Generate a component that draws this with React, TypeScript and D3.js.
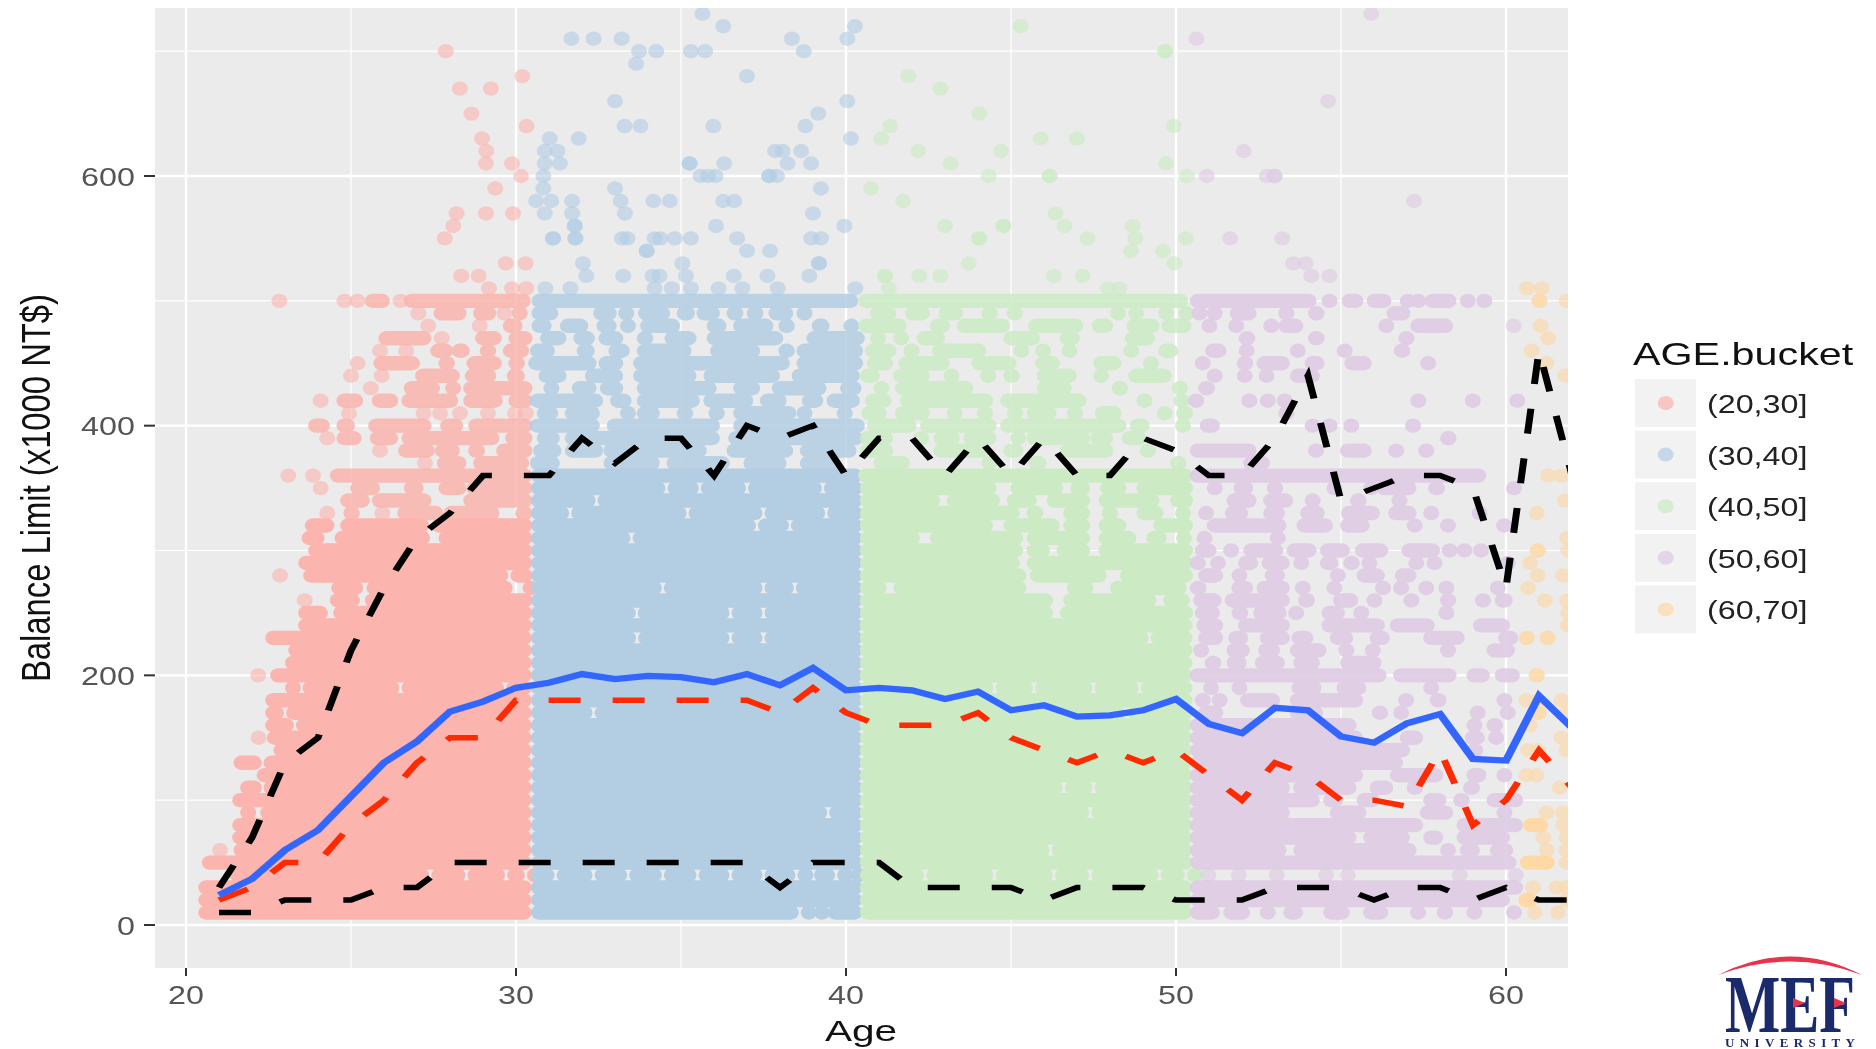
import React from "react";
import * as d3 from "d3";

// ---------- Axis content ----------
const xMajorTicks = [20, 30, 40, 50, 60];
const xMinorTicks = [25, 35, 45, 55];
const yMajorTicks = [0, 200, 400, 600];
const yMinorTicks = [100, 300, 500, 700];
const bucketLabels = ["(20,30]", "(30,40]", "(40,50]", "(50,60]", "(60,70]"];
const bucketColors = ["#fbb4ae", "#b3cde3", "#ccebc5", "#decbe4", "#fed9a6"];

// ---------- Summary lines by age ----------
const ages = [21,22,23,24,25,26,27,28,29,30,31,32,33,34,35,36,37,38,39,40,41,42,43,44,45,46,47,48,49,50,51,52,53,54,55,56,57,58,59,60,61,62];
const meanLimit = [24,37,60,76,103,130,147,171,179,190,194,201,197,199.5,198.5,194.5,201,192,206,188,190,188,181,187,172,176,167,168,172,181,161,153.6,174,172,151,146,161.6,169,133,131.7,183.5,158];
const medianLimit = [20,30,50,50,80,100,130,150,150,180,180,180,180,180,180,180,180,170,190,170,160,160,160,170,150,140,130,140,130,140,120,100,130,120,100,100,95,140,80,100,140,110];
const upperLimit = [30,70,130,150,220,270,310,330,360,360,360,390,370,390,390,360,400,390,400,360,390,390,360,390,360,390,360,360,390,380,360,360,390,440,340,350,360,360,350,270,460,360];
const lowerLimit = [10,10,20,20,20,30,30,50,50,50,50,50,50,50,50,50,50,30,50,50,50,30,30,30,30,20,30,30,30,20,20,20,30,30,30,20,30,30,20,30,20,20];

// ---------- Scatter: solitary points as [age, limit] ----------
const pinkPoints = [[27.87,700],[30.19,680],[28.3,670],[29.24,670],[28.65,650],[30.32,640],[28.97,630],[29.1,620],[29.09,610],[29.88,610],[30.15,600],[29.37,590],[28.2,570],[29.09,570],[29.91,570],[28.1,560],[27.84,550],[29.69,530],[30.29,530],[28.34,520],[28.87,520],[29.18,510],[29.88,510],[30.31,510],[22.83,500],[24.8,500],[25.2,500],[26.5,500],[27.04,490],[29.65,490],[27.34,480],[28.9,480],[27.75,470],[25.88,460],[26.67,460],[25.2,450],[25,440],[25.93,440],[25.6,430],[24.08,420],[24.94,410],[27.2,410],[27.7,410],[28.3,410],[29.15,410],[29.97,410],[30.3,410],[24.28,390],[25.88,380],[27.24,370],[23.1,360],[23.85,360],[24.08,350],[24.28,330],[25.95,330],[22.85,280],[23.6,260],[22.19,200],[22.2,150],[21.03,60]];
const bluePoints = [[35.65,730],[36.28,720],[40.27,720],[31.68,710],[32.35,710],[33.2,710],[38.36,710],[40.04,710],[33.73,700],[34.25,700],[35.3,700],[35.73,700],[38.72,700],[33.64,690],[37,680],[33,660],[40.04,660],[39.16,650],[33.29,640],[33.77,640],[35.98,640],[38.77,640],[31.02,630],[31.9,630],[40.15,630],[30.87,620],[31.26,620],[37.85,620],[38.08,620],[38.64,620],[30.87,610],[31.33,610],[35.26,610],[35.26,610],[36.31,610],[38.23,610],[38.94,610],[30.83,600],[35.59,600],[35.82,600],[36.05,600],[37.67,600],[37.67,600],[37.91,600],[30.83,590],[33,590],[39.24,590],[30.61,580],[31.07,580],[31.7,580],[33.17,580],[34.16,580],[34.66,580],[36.28,580],[36.61,580],[30.87,570],[31.7,570],[33.3,570],[39,570],[31.78,560],[31.78,560],[36.06,560],[39.95,560],[31.12,550],[31.12,550],[31.8,550],[31.8,550],[33.21,550],[33.38,550],[34.2,550],[34.37,550],[34.81,550],[35.3,550],[36.7,550],[38.95,550],[39.24,550],[33.96,540],[33.96,540],[37,540],[37.7,540],[32.03,530],[35.04,530],[39.18,530],[39.18,530],[32.13,520],[33.25,520],[34.14,520],[34.35,520],[35.15,520],[36.6,520],[37.62,520],[38.89,520],[30.89,510],[31.65,510],[34.2,510],[34.72,510],[35.3,510],[36.14,510],[36.86,510],[37.93,510],[40.28,510]];
const greenPoints = [[45.29,720],[49.67,700],[49.67,700],[41.89,680],[42.86,670],[44.04,650],[41.34,640],[49.93,640],[41.07,630],[45.9,630],[47,630],[42.19,620],[44.7,620],[43.17,610],[49.7,610],[44.32,600],[46.17,600],[46.17,600],[50.33,600],[40.76,590],[41.73,580],[46.35,570],[43,560],[44.77,560],[44.77,560],[46.62,560],[48.69,560],[44.03,550],[44.03,550],[47.32,550],[48.77,550],[50.3,550],[48.63,540],[49.6,540],[43.72,530],[49.95,530],[41.18,520],[41.18,520],[42.22,520],[42.86,520],[46.3,520],[47.17,520],[41.3,510],[47.95,510],[48.28,510]];
const purplePoints = [[55.92,730],[50.62,710],[54.61,660],[52.05,620],[50.93,600],[52.75,600],[52.99,600],[52.99,600],[57.21,580],[51.64,550],[53.22,550],[53.55,530],[53.93,530],[54.1,520],[54.65,520],[60.23,480],[50.98,40],[51.9,40],[53.05,40],[54.55,40],[55.2,40],[58.6,40],[60.3,40]];
const orangePoints = [[60.63,510],[61.08,510],[61.01,500],[61.01,500],[61.84,500],[61.05,480],[61.28,470],[60.78,460],[61.23,450],[61.79,440],[61.28,360],[61.68,360],[61.79,340],[60.93,330],[61.85,310],[60.96,300],[60.96,300],[61.88,300],[60.73,290],[60.96,280],[61.73,280],[60.67,270],[61.18,260],[61.85,260],[61.88,250],[61.88,240],[60.63,230],[60.63,230],[61.26,230],[61.26,230],[60.93,200],[60.93,200],[60.62,180],[60.98,180],[61.68,180],[60.98,170],[60.98,170],[61.83,170],[60.72,160],[61.68,150],[60.67,140],[60.98,140],[61.83,140],[60.62,120],[60.92,120],[61.63,110],[61.23,90],[61.73,90],[61.73,80],[61.13,70],[61.83,70],[61.23,60],[61.83,60],[61.83,50],[60.82,30],[61.53,30],[61.83,30],[61.83,20],[60.87,10],[61.58,10]];

// ---------- Scatter: runs of overlapping points as [limit, from, to, from, to, ...] ----------
const pinkOpenRuns = [
  [500,25.42,26.18,26.6,30.45],[490,27.5,28.5,28.7,29.4,29.87,30.27],[480,29.6,30.2],[470,25.83,27.44,28.76,29.57,29.77,30.5],
  [460,27.4,28.1,28.05,28.6,28.9,29.4,29.6,30.4],[450,25.68,27.09,27.65,28.15,28.5,29.57,29.77,30.27],[440,26.94,28.3,28.45,29.4,29.72,30.27],
  [430,26.6,27.7,27.85,28.3,28.4,30.5],[420,24.56,25.37,25.63,26.43,26.53,28.25,28.4,29.6,29.77,30.5],[400,23.7,24.36,24.56,25.12,25.52,27.44,27.7,28.4,28.55,30.5],
  [390,24.56,25.32,25.57,26.43,26.53,29.5,29.67,30.5],[380,26.43,27.54,27.54,28.3,28.55,29.06,29.4,30.5],[370,27.6,28.5,28.7,30.4],
  [360,24.36,30.5],[350,24.97,25.88,26.6,27.2,27.65,28.5,28.5,30.5],[340,24.67,25.57,25.63,27.44,28.4,30.5],[330,24.77,25.27,26.4,27.8,27.8,29.5,29.97,30.5],
];
const pinkSolidRuns = [
  [320,23.6,24.5,24.67,30.5],[310,23.5,24.2,24.5,27.4,27.65,30.5],[300,23.7,30.5],[290,23.4,30.5],[280,23.55,30.5],[270,24.4,25.37,25.47,29.9,30.2,30.5],
  [260,24.36,25.27,25.42,30.5],[250,23.4,24.3,24.46,30.5],[240,23.4,30.48],[230,22.4,30.48],[220,23.1,30.48],[210,23,30.48],[200,22.55,30.48],
  [190,23,30.48],[180,22.4,30.48],[170,22.4,30.48],[160,22.4,30.48],[150,22.45,30.48],[140,22.65,30.48],[130,21.44,22.3,22.35,30.48],[120,22.14,30.48],
  [110,21.64,22.3,22.35,30.48],[100,21.4,30.48],[90,21.64,22.05,22.25,30.48],[80,21.4,30.48],[70,21.4,30.48],[60,21.44,30.48],[50,20.48,30.48],
  [40,21.33,30.48],[30,20.37,30.48],[20,20.37,30.48],[10,20.37,30.48],
];
const pinkGaps = [[190,23.5],[190,26.5],[190,29.67],[170,23],[160,23.3],[40,27.4],[40,28.5],[40,29.7],[40,30.3],[320,27.4],[280,29.8]];

const blueOpenRuns = [
  [500,30.47,40.37],
  [490,30.47,31.28,32.34,33.05,33.1,33.55,33.7,34.67,34.87,35.42,35.47,36.18,36.38,36.89,36.99,37.5,37.65,38.4,38.5,38.96],
  [480,30.47,31.08,31.33,32.19,32.44,33.05,33.15,33.55,33.76,34.97,35.78,36.38,36.58,37.8,37.95,38.45,38.96,39.5,39.92,40.37],
  [470,30.73,31.53,31.74,32.39,32.5,33.25,33.66,34.16,34.5,35.47,35.78,38.1,38.8,40.57],
  [460,30.42,31.18,31.84,32.39,32.8,33.45,33.66,35.32,35.88,37.4,37.95,38.45,38.5,40.52],
  [450,30.37,32.44,32.5,33.25,33.55,38.3,38.5,40.52],
  [440,30.68,31.53,32.09,33.25,33.55,35.47,35.68,38,38.35,40.42],
  [430,30.83,31.23,31.69,32.44,32.54,33.25,33.66,36.08,36.58,37.4,37.75,39.41,39.82,40.47],
  [420,30.42,32.64,32.85,33.5,33.66,35.57,35.68,37.19,37.39,38.2,38.66,39.31,39.41,40.42],
  [410,30.63,31.28,31.48,32.54,33.15,33.55,33.66,34.36,34.87,35.37,35.83,36.33,36.58,38.5,38.5,38.9,39.72,40.12],
  [400,30.42,32.54,32.75,36.18,36.58,40.57],
  [390,30.63,31.33,31.48,36.18,36.43,40.52],
  [380,30.52,31.38,31.48,32.64,32.65,35.78,36.38,38.4,38.6,40.32],
  [370,30.42,31.33,32.65,34.36,34.56,36.48,36.89,38.2,38.6,39.82],
];
const denseLimits = [360,350,340,330,320,310,300,290,280,270,260,250,240,230,220,210,200,190,180,170,160,150,140,130,120,110,100,90,80,70,60,50,40,30,20,10];
const blueGaps = [[350,34.56],[350,35.57],[350,37],[350,39.3],[340,32.44],[330,31.64],[330,35.2],[330,35.35],[330,37.5],[330,39.4],[320,38.3],[320,37.3],[310,33.5],[270,37.5],[270,38.45],[270,34.45],[250,33.66],[250,36.5],[250,37.5],[230,33.67],[230,36.5],[230,37.5],[170,32.35],[90,39.46],[40,30.39],[40,31.2],[40,31.4],[40,32.35],[40,33.4],[40,33.6],[40,34.45],[40,35.5],[40,36.5],[40,37.5],[40,38.5],[40,39],[40,39.7],[40,40.1],[10,38.6],[10,39],[10,39.4]];

const greenOpenRuns = [
  [500,40.37,50.37],
  [490,40.73,41.53,41.79,42.54,42.8,43.55,44.1,44.6,44.87,45.32,48,48.45,48.55,48.96,49.46,49.92,50.07,50.37],
  [480,40.37,41.84,42.54,43.15,43.35,44.97,45.52,47.19,47.44,48.1,48.5,49.5,49.56,50.47],
  [470,40.73,41.13,41.43,41.89,42.14,43,44.77,45.88,46.48,47.09,48.45,49.36],
  [460,40.57,41.53,41.74,42.24,42.6,44.26,45.07,45.52,45.73,46.18,46.53,46.99,48.4,48.86,49.46,50.07],
  [450,40.63,41.43,41.58,43.15,43.8,45.17,45.73,46.48,47.49,48.35,49,49.46],
  [440,40.42,41.03,41.43,42.54,42.95,43.4,44.06,44.56,44.77,45.27,45.78,47,47.49,47.95,48.55,49.87],
  [430,40.83,41.28,41.48,43.86,45.78,46.84,48.05,48.55,49.87,50.32],
  [420,40.57,41.38,41.64,44.46,44.67,47.29,48.8,49.26,49.92,50.22],
  [410,40.47,41.23,41.48,42.54,43.05,43.5,43.96,44.46,44.87,45.37,45.47,46.38,46.69,47.19,47.54,48.35,49.41,49.87,50,50.52],
  [400,40.63,42.14,42.24,44.56,44.67,48.5,48.6,49.2,49.97,50.37],
  [390,40.42,41.43,42.04,42.5,42.65,43.45,43.55,44.56,44.97,45.37,45.47,47.4,47.4,48.1,48.35,49.1],
  [380,40.42,41.43,42.65,44.36,44.77,45.37,46.48,48.1,48.9,49.36],
  [370,40.83,41.94,44.1,44.56,45.52,46.08,49.82,50.32],
];
const greenSolidRuns = [
  [360,40.37,50.52],[350,40.42,44.56,44.97,46.58,46.79,47.4,47.7,48.5,48.8,50.52],[340,40.42,42.85,43.05,44.67,44.87,45.78,46.08,47.4,47.65,49.5,49.82,50.52],
  [330,40.42,45.27,45.47,45.98,46.58,47.4,47.75,48.25,48.8,49.62,49.97,50.42],[320,40.42,44.46,44.77,46.48,46.58,47.4,47.65,48.5,49.31,50.52],
  [310,40.42,42.24,42.54,45.37,45.47,47.4,47.65,48.8,49.1,49.72,50,50.42],[300,40.42,45.37,45.47,46.18,46.38,47.4,47.65,50.52],[290,40.42,45.27,45.47,50.52],
  [280,40.42,45.47,45.57,47.9,48.3,50.52],[270,40.42,41.23,41.43,45.47,46.69,47.5,48,50.32],[260,40.42,46.28,46.58,49.41,49.61,50.42],[250,40.42,46.28,46.48,50.52],
];
const greenDenseLimits = [240,230,220,210,200,190,180,170,160,150,140,130,120,110,100,90,80,70,60,50,40,30,20,10];
const greenGaps = [[230,49.2],[190,44.5],[190,45.7],[190,47.5],[190,48.9],[110,47.5],[110,46.6],[90,47.4],[40,42.4],[40,44.5],[40,46.3],[40,47.4],[40,49.5],[40,50.3],[170,48.5],[60,46.2]];

const purpleRuns = [
  [500,50.42,54.26,54.41,54.87,55.02,55.68,55.78,56.53,56.78,57,57.1,57.4,57.54,58.5,58.6,59.06,59.1,59.57],
  [490,50.47,50.93,50.93,51.28,51.63,52.44,53.1,53.5,54,54.5,56.38,57.1],
  [480,50.77,51.23,51.58,52,52.64,53.05,53.1,53.86,56.13,56.53,57.1,58.4],
  [470,51.9,52.4,54,54.5,56.74,57.14],
  [460,50.88,51.53,51.9,52.35,53.45,53.9,54.87,55.32,56.6,57.1],
  [450,50.57,51.03,51.84,52.34,52.44,53.45,53.9,54.5,55.1,55.93,57.4,57.85],
  [440,50.93,51.38,51.84,52.3,52.5,52.9,53.45,54.36],
  [430,50.67,51.18],
  [420,50.37,50.83,51.98,52.44,52.54,53,53.05,53.45,57.1,57.55,58.75,59.2,60.1,60.55],
  [410,53.1,53.55],
  [400,50.72,51.33,53.9,54.36,54.41,54.87,55.07,55.52,56.94,57.4],
  [390,58,58.5],
  [380,50.42,52.44,54,54.46,54.97,55.93,56.43,56.89,57.34,57.8],
  [370,52.04,52.85],
  [360,50.42,59.4],
  [350,50.93,51.38,51.74,52.34,52.75,53.25,54.56,55,55.67,56.08,56.08,57.29,57.64,58.15,60,60.37],
  [340,51.53,52.44,52.64,53.55,53.9,54.31,55.27,55.78,56.53,56.99],
  [330,50.67,51.13,51.48,52.19,52.64,53.3,53.76,54.51,55,56.18,56.43,57.29,57.49,57.95,58.96,59.36],
  [320,50.93,53.35,53.65,54.76,54.97,55.87,56.99,57.44,58,58.45,59.7,60.12],
  [310,50.62,51.03,52.84,53.3],
  [300,50.57,51.23,51.43,51.88,52.04,53.25,53.35,54.26,54.36,55.27,55.42,56.43,56.83,58,58.05,58.35,58.5,58.85,59,59.41],
  [290,50.42,50.87,51.03,51.48,51.88,52.49,52.59,53.45,53.55,54,54.36,54.92,55.07,55.57,55.62,56.03,57.04,57.49,57.59,58.05,59.81,60.27],
  [280,50.67,51.43,51.68,52.14,52.69,53.3,54.66,55.07,55.47,56.33,56.63,57.29],
  [270,50.42,50.93,51.68,52.34,52.44,53.45,53.6,54,54.56,55,56.03,56.48,56.58,57.04,57.34,57.8,57.95,58.35,59.51,59.92],
  [260,50.52,51.38,51.48,53.45,53.7,54.21,54.76,55.52,55.77,56.18,56.89,57.29,58,58.45,59.06,59.51,59.66,60.2],
  [250,50.57,51.33,51.68,52.19,52.34,53.35,53.4,53.85,54.41,55.12,55.37,55.82,57.95,58.4],
  [240,50.62,51.43,51.88,53.45,54.41,56.33,56.48,57.84,59,60.12],
  [230,50.67,51.43,51.58,52.19,52.54,53.45,53.5,54.16,54.66,55.37,55.87,56.48,57.49,58.75,59.76,60.37],
  [220,50.52,50.97,51.53,52.24,52.49,53.15,53.45,54.56,54.92,55.37,55.72,56.13,58,58.4,59.41,60.27],
  [210,50.87,51.38,51.53,52.14,52.39,53.3,53.55,54.36,54.97,56.23],
  [200,50.42,56.38,56.58,58.5,58.8,59.51,59.66,60.42],
  [190,50.82,51.28,51.68,52.09,53.5,54.41,54.86,55.77,57.49,57.95],
  [180,50.57,51.03,51.08,51.53,51.94,53.15,53.45,55.67,56.73,57.14,57.69,58.2,59.71,60.17],
  [170,50.67,51.43,53.45,54.46,55.93,56.43,56.58,57.04,58.9,59.36,59.81,60.27],
  [160,50.42,55.47,58.8,59.2,59.41,59.91],
  [150,50.42,55.67,56.78,57.49,58.75,59.36,59.46,59.81],
  [140,50.42,57.09,58.8,59.31],
  [130,50.42,56.88],
  [120,50.42,55.67,56.48,58.1,58.8,59.41,59.71,60.17],
  [110,50.42,53.45,53.55,55.47,55.87,56.58,56.99,57.49,58.7,59.21],
  [100,50.42,54.36,54.46,55.07,55.47,56.18,57.49,58.2,58.4,58.9,59.41,60.52],
  [90,50.42,53.45,54.66,55.77,57.39,58.4,59.71,60.12],
  [80,50.42,57.49,58.5,60.52],
  [70,50.42,55.47,55.67,57.09,57.49,58.1,58.5,60.12],
  [60,50.42,53.35,53.55,57.29,58,58.4,58.6,59.21,59.51,60.22],
  [50,50.42,60.32],
  [30,50.42,60.52],
  [20,50.42,60.12],
  [10,50.42,51.33,51.43,52.24,52.54,52.95,53.25,53.85,54.46,55.27,55.67,56.43,57.09,57.49,57.9,58.4,58.8,59.2,60,60.37],
];
const orangeRuns = [[80,60.52,61.28],[50,60.42,61.48],[20,60.37,60.97]];

// ---------- Scales ----------
const x = d3.scaleLinear().domain([20, 60]).range([186, 1506]);
const y = d3.scaleLinear().domain([0, 600]).range([925, 176]);
const panel = { left: 155, right: 1568, top: 8, bottom: 968 };
const RX = 8;
const RY = 7.2;
// The reference picture is squeezed vertically: lines are drawn in an unsqueezed space
// so that dash lengths and stroke widths shrink along y as they do there.
const SQUEEZE = 0.78;

type Run = { limit: number; from: number; to: number };
const flatten = (rows: number[][]): Run[] =>
  rows.flatMap((r) => d3.range(1, r.length, 2).map((i) => ({ limit: r[0], from: r[i], to: r[i + 1] })));
const applyGaps = (runs: Run[], gaps: number[][]): Run[] =>
  gaps.reduce((acc, [limit, age]) =>
    acc.flatMap((r) =>
      r.limit === limit && age > r.from && age < r.to
        ? [{ limit, from: r.from, to: age - 0.03 }, { limit, from: age + 0.03, to: r.to }]
        : [r]), runs);
const solidRows = (limits: number[], from: number, to: number): number[][] => limits.map((l) => [l, from, to]);

const Runs = ({ runs, fill, opacity }: { runs: Run[]; fill: string; opacity: number }) => (
  <g fill={fill} opacity={opacity}>
    {runs.map((r, i) => (
      <rect key={i} x={x(r.from)} y={y(r.limit) - RY} width={Math.max(x(r.to) - x(r.from), 2 * RX)} height={2 * RY} rx={RX} ry={RY} />
    ))}
  </g>
);
const Points = ({ points, fill }: { points: number[][]; fill: string }) => (
  <g fill={fill}>
    {points.map((p, i) => (
      <ellipse key={i} cx={x(p[0])} cy={y(p[1])} rx={RX} ry={RY} opacity={0.62} />
    ))}
  </g>
);

const line = d3.line<number>().x((_, i) => x(ages[i])).y((d) => y(d) / SQUEEZE);
const font = "'Liberation Sans', Arial, sans-serif";

const Stretched = ({ px, py, sx, size, anchor, fill, children }: any) => (
  <text transform={`translate(${px},${py}) scale(${sx},1)`} fontFamily={font} fontSize={size} textAnchor={anchor} fill={fill}>
    {children}
  </text>
);

export default function App() {
  return (
    <svg width={1876} height={1049} style={{ position: "absolute", left: 0, top: 0, display: "block", filter: "blur(0.6px)" }}>
      <rect width={1876} height={1049} fill="#fff" />
      <defs>
        <clipPath id="panel-clip">
          <rect x={panel.left} y={panel.top} width={panel.right - panel.left} height={panel.bottom - panel.top} />
        </clipPath>
      </defs>
      <rect x={panel.left} y={panel.top} width={panel.right - panel.left} height={panel.bottom - panel.top} fill="#ebebeb" />
      {yMinorTicks.map((t) => <line key={t} x1={panel.left} x2={panel.right} y1={y(t)} y2={y(t)} stroke="#fff" strokeWidth={1.2} />)}
      {xMinorTicks.map((t) => <line key={t} x1={x(t)} x2={x(t)} y1={panel.top} y2={panel.bottom} stroke="#fff" strokeWidth={1.2} />)}
      {yMajorTicks.map((t) => <line key={t} x1={panel.left} x2={panel.right} y1={y(t)} y2={y(t)} stroke="#fff" strokeWidth={2.4} />)}
      {xMajorTicks.map((t) => <line key={t} x1={x(t)} x2={x(t)} y1={panel.top} y2={panel.bottom} stroke="#fff" strokeWidth={2.4} />)}

      <g clipPath="url(#panel-clip)">
        <Points points={pinkPoints} fill={bucketColors[0]} />
        <Runs runs={flatten(pinkOpenRuns)} fill={bucketColors[0]} opacity={0.85} />
        <Runs runs={applyGaps(flatten(pinkSolidRuns), pinkGaps)} fill={bucketColors[0]} opacity={1} />
        <Points points={bluePoints} fill={bucketColors[1]} />
        <Runs runs={flatten(blueOpenRuns)} fill={bucketColors[1]} opacity={0.85} />
        <Runs runs={applyGaps(flatten(solidRows(denseLimits, 30.45, 40.5)), blueGaps)} fill={bucketColors[1]} opacity={1} />
        <Points points={greenPoints} fill={bucketColors[2]} />
        <Runs runs={flatten(greenOpenRuns)} fill={bucketColors[2]} opacity={0.85} />
        <Runs runs={applyGaps([...flatten(greenSolidRuns), ...flatten(solidRows(greenDenseLimits, 40.42, 50.5))], greenGaps)} fill={bucketColors[2]} opacity={1} />
        <Points points={purplePoints} fill={bucketColors[3]} />
        <Runs runs={flatten(purpleRuns)} fill={bucketColors[3]} opacity={0.9} />
        <Points points={orangePoints} fill={bucketColors[4]} />
        <Runs runs={flatten(orangeRuns)} fill={bucketColors[4]} opacity={1} />

        <g transform={`scale(1,${SQUEEZE})`} fill="none">
          <path d={line(upperLimit) as string} stroke="#000" strokeWidth={7} strokeDasharray="32 32" />
          <path d={line(lowerLimit) as string} stroke="#000" strokeWidth={7} strokeDasharray="32 32" />
          <path d={line(medianLimit) as string} stroke="#ff2a00" strokeWidth={7} strokeDasharray="32 32" />
          <path d={line(meanLimit) as string} stroke="#3366ff" strokeWidth={8} />
        </g>
      </g>

      {xMajorTicks.map((t) => (
        <g key={t}>
          <line x1={x(t)} x2={x(t)} y1={panel.bottom} y2={panel.bottom + 8} stroke="#333" strokeWidth={2} />
          <Stretched px={x(t)} py={1004} sx={1.22} size={26.5} anchor="middle" fill="#555">{t}</Stretched>
        </g>
      ))}
      {yMajorTicks.map((t) => (
        <g key={t}>
          <line x1={144} x2={panel.left} y1={y(t)} y2={y(t)} stroke="#333" strokeWidth={2} />
          <Stretched px={135} py={y(t) + 9.5} sx={1.22} size={26.5} anchor="end" fill="#555">{t}</Stretched>
        </g>
      ))}

      <Stretched px={861} py={1041} sx={1.4} size={29} anchor="middle" fill="#111">Age</Stretched>
      <text transform="translate(50,488) rotate(-90)" fontFamily={font} fontSize={40} textAnchor="middle" fill="#111" textLength={388} lengthAdjust="spacingAndGlyphs">
        Balance Limit (x1000 NT$)
      </text>

      <Stretched px={1633} py={365} sx={1.29} size={32} anchor="start" fill="#111">AGE.bucket</Stretched>
      {bucketLabels.map((label, i) => {
        const top = 379 + i * 51.6;
        return (
          <g key={label}>
            <rect x={1635} y={top} width={61} height={48} fill="#f2f2f2" />
            <ellipse cx={1665.7} cy={top + 24} rx={8} ry={7} fill={bucketColors[i]} opacity={0.7} />
            <Stretched px={1707} py={top + 34} sx={1.29} size={25} anchor="start" fill="#222">{label}</Stretched>
          </g>
        );
      })}

      <g>
        <path d="M1718 975 Q1790 938 1862 975 Q1790 948 1718 975 Z" fill="#e8344a" />
        <text x={1725} y={1032} fontFamily="'Liberation Serif', serif" fontWeight={700} fontSize={82} fill="#1b2a6b" textLength={130} lengthAdjust="spacingAndGlyphs">MEF</text>
        <path d="M1793 998 L1805 1003 L1793 1008 Z M1834 998 L1846 1003 L1834 1008 Z" fill="#e8344a" />
        <text x={1725} y={1047} fontFamily="'Liberation Serif', serif" fontWeight={700} fontSize={13} fill="#1b2a6b" textLength={130} lengthAdjust="spacing">UNIVERSITY</text>
      </g>
    </svg>
  );
}
